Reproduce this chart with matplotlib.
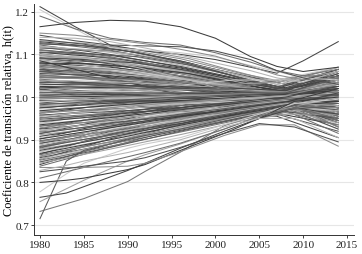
"""
Spaghetti chart of relative transition coefficients h(it), 1980-2014.
Values read off the reference picture by eye.
"""
import matplotlib
matplotlib.use('Agg')
import matplotlib.pyplot as plt

# knot years for the bulk of the series
YEARS = [1980, 1988, 1996, 2003, 2008, 2014]

upper_lines = [
    [1.130, 1.115, 1.085, 1.050, 1.030, 1.060],
    [1.128, 1.110, 1.080, 1.045, 1.020, 1.040],
    [1.125, 1.118, 1.090, 1.055, 1.035, 1.070],
    [1.122, 1.100, 1.070, 1.040, 1.015, 1.020],
    [1.120, 1.105, 1.075, 1.048, 1.025, 1.050],
    [1.118, 1.095, 1.060, 1.030, 1.010, 0.990],
    [1.115, 1.108, 1.082, 1.052, 1.030, 1.065],
    [1.112, 1.090, 1.062, 1.035, 1.012, 1.010],
    [1.110, 1.098, 1.072, 1.042, 1.020, 1.045],
    [1.108, 1.085, 1.055, 1.028, 1.005, 0.975],
    [1.105, 1.092, 1.068, 1.040, 1.022, 1.055],
    [1.102, 1.080, 1.050, 1.025, 1.008, 1.000],
    [1.100, 1.088, 1.065, 1.038, 1.018, 1.030],
    [1.098, 1.078, 1.048, 1.020, 1.000, 0.960],
    [1.095, 1.085, 1.060, 1.035, 1.015, 1.040],
    [1.092, 1.072, 1.045, 1.022, 1.004, 0.985],
    [1.090, 1.080, 1.058, 1.032, 1.020, 1.060],
    [1.088, 1.068, 1.040, 1.018, 0.998, 0.950],
    [1.085, 1.075, 1.055, 1.030, 1.012, 1.025],
    [1.082, 1.062, 1.038, 1.015, 0.995, 0.970],
    [1.080, 1.070, 1.050, 1.028, 1.015, 1.050],
    [1.078, 1.060, 1.035, 1.012, 1.000, 1.005],
    [1.075, 1.066, 1.046, 1.025, 1.010, 1.035],
    [1.072, 1.055, 1.030, 1.010, 0.995, 0.980],
    [1.070, 1.062, 1.044, 1.022, 1.008, 1.015],
    [1.068, 1.050, 1.028, 1.008, 0.990, 0.945],
    [1.065, 1.058, 1.040, 1.020, 1.006, 1.030],
    [1.062, 1.048, 1.025, 1.005, 0.992, 0.990],
    [1.060, 1.054, 1.036, 1.018, 1.004, 1.010],
    [1.058, 1.044, 1.022, 1.004, 0.990, 0.960],
    [1.055, 1.050, 1.034, 1.016, 1.002, 1.020],
    [1.052, 1.040, 1.020, 1.002, 0.988, 0.975],
    [1.050, 1.046, 1.030, 1.014, 1.003, 1.040],
]

middle_lines = [
    [1.048, 1.040, 1.028, 1.012, 1.000, 0.990],
    [1.045, 1.042, 1.035, 1.022, 1.012, 1.045],
    [1.042, 1.030, 1.018, 1.005, 0.995, 0.965],
    [1.040, 1.036, 1.028, 1.018, 1.010, 1.030],
    [1.038, 1.025, 1.012, 1.000, 0.990, 0.955],
    [1.035, 1.030, 1.022, 1.015, 1.008, 1.020],
    [1.032, 1.020, 1.008, 0.998, 0.992, 0.985],
    [1.030, 1.028, 1.024, 1.020, 1.015, 1.055],
    [1.028, 1.015, 1.004, 0.996, 0.990, 0.970],
    [1.025, 1.022, 1.018, 1.012, 1.006, 1.010],
    [1.022, 1.010, 1.000, 0.994, 0.990, 0.945],
    [1.020, 1.020, 1.018, 1.015, 1.012, 1.040],
    [1.018, 1.008, 0.998, 0.992, 0.988, 0.975],
    [1.015, 1.012, 1.008, 1.005, 1.002, 1.000],
    [1.012, 1.004, 0.996, 0.990, 0.986, 0.960],
    [1.010, 1.010, 1.010, 1.010, 1.010, 1.025],
    [1.008, 1.000, 0.994, 0.990, 0.988, 0.990],
    [1.005, 1.006, 1.008, 1.008, 1.008, 1.050],
    [1.002, 0.998, 0.994, 0.992, 0.990, 0.935],
    [1.000, 1.002, 1.004, 1.006, 1.006, 1.015],
    [0.998, 0.994, 0.992, 0.992, 0.992, 0.980],
    [0.995, 1.000, 1.004, 1.008, 1.010, 1.035],
    [0.992, 0.990, 0.990, 0.990, 0.990, 0.965],
    [0.990, 0.996, 1.002, 1.006, 1.008, 1.000],
    [0.985, 0.986, 0.988, 0.990, 0.992, 0.950],
    [0.982, 0.992, 1.000, 1.006, 1.010, 1.045],
    [0.978, 0.982, 0.986, 0.990, 0.994, 0.985],
    [0.975, 0.986, 0.996, 1.004, 1.008, 1.020],
    [0.972, 0.978, 0.984, 0.990, 0.994, 0.970],
    [0.968, 0.980, 0.992, 1.000, 1.006, 1.005],
    [0.965, 0.972, 0.980, 0.988, 0.994, 0.955],
    [0.962, 0.975, 0.988, 0.998, 1.004, 1.030],
    [0.958, 0.966, 0.976, 0.986, 0.992, 0.990],
    [0.955, 0.970, 0.984, 0.996, 1.002, 1.010],
    [0.952, 0.962, 0.972, 0.984, 0.990, 0.960],
]

lower_lines = [
    [0.948, 0.960, 0.972, 0.985, 0.995, 1.000],
    [0.945, 0.955, 0.966, 0.978, 0.988, 0.965],
    [0.942, 0.958, 0.975, 0.990, 1.000, 1.025],
    [0.938, 0.950, 0.962, 0.976, 0.986, 0.950],
    [0.935, 0.952, 0.970, 0.986, 0.996, 0.995],
    [0.932, 0.945, 0.958, 0.972, 0.984, 0.975],
    [0.928, 0.948, 0.968, 0.984, 0.995, 1.015],
    [0.925, 0.940, 0.955, 0.970, 0.982, 0.940],
    [0.922, 0.942, 0.962, 0.980, 0.992, 0.985],
    [0.918, 0.935, 0.952, 0.968, 0.980, 0.960],
    [0.915, 0.938, 0.960, 0.978, 0.990, 1.005],
    [0.912, 0.930, 0.948, 0.966, 0.978, 0.930],
    [0.908, 0.932, 0.956, 0.976, 0.988, 0.990],
    [0.905, 0.925, 0.945, 0.964, 0.976, 0.970],
    [0.902, 0.928, 0.954, 0.974, 0.988, 1.020],
    [0.898, 0.920, 0.942, 0.962, 0.975, 0.950],
    [0.895, 0.922, 0.950, 0.972, 0.986, 0.980],
    [0.892, 0.915, 0.938, 0.960, 0.974, 0.925],
    [0.888, 0.916, 0.945, 0.968, 0.984, 1.000],
    [0.885, 0.910, 0.935, 0.958, 0.972, 0.960],
    [0.882, 0.912, 0.942, 0.966, 0.982, 0.985],
    [0.878, 0.905, 0.932, 0.956, 0.970, 0.940],
    [0.875, 0.906, 0.938, 0.964, 0.980, 1.010],
    [0.872, 0.900, 0.928, 0.954, 0.970, 0.970],
    [0.868, 0.900, 0.934, 0.962, 0.978, 0.990],
    [0.865, 0.895, 0.925, 0.952, 0.968, 0.915],
    [0.862, 0.895, 0.930, 0.958, 0.976, 0.975],
    [0.858, 0.890, 0.922, 0.950, 0.966, 0.950],
    [0.855, 0.890, 0.926, 0.956, 0.974, 1.000],
    [0.852, 0.885, 0.918, 0.948, 0.964, 0.935],
    [0.848, 0.882, 0.920, 0.952, 0.970, 0.980],
    [0.845, 0.878, 0.912, 0.944, 0.960, 0.960],
]

# second batch, different knots, so the bundle crosses itself
EXTRA_YEARS = [1980, 1985, 1991, 1997, 2002, 2007, 2014]
extra_lines = [
    [1.125, 1.120, 1.105, 1.080, 1.050, 1.020, 1.000],
    [1.118, 1.112, 1.100, 1.078, 1.055, 1.030, 1.055],
    [1.110, 1.100, 1.085, 1.060, 1.035, 1.005, 0.965],
    [1.105, 1.102, 1.095, 1.075, 1.050, 1.025, 1.045],
    [1.098, 1.090, 1.075, 1.052, 1.028, 1.000, 0.990],
    [1.092, 1.088, 1.080, 1.062, 1.040, 1.020, 1.065],
    [1.086, 1.075, 1.060, 1.040, 1.020, 0.995, 0.955],
    [1.080, 1.078, 1.070, 1.055, 1.035, 1.015, 1.030],
    [1.075, 1.065, 1.050, 1.030, 1.012, 0.992, 0.975],
    [1.070, 1.068, 1.062, 1.048, 1.030, 1.012, 1.050],
    [1.064, 1.055, 1.040, 1.022, 1.005, 0.990, 0.995],
    [1.058, 1.056, 1.050, 1.040, 1.025, 1.010, 1.020],
    [1.052, 1.044, 1.030, 1.015, 1.000, 0.985, 0.950],
    [1.046, 1.045, 1.042, 1.034, 1.022, 1.008, 1.035],
    [1.040, 1.032, 1.020, 1.006, 0.995, 0.985, 0.985],
    [1.034, 1.034, 1.032, 1.026, 1.018, 1.010, 1.060],
    [1.028, 1.022, 1.012, 1.002, 0.994, 0.986, 0.960],
    [1.022, 1.024, 1.024, 1.020, 1.014, 1.008, 1.015],
    [1.016, 1.010, 1.002, 0.996, 0.990, 0.985, 0.975],
    [1.010, 1.014, 1.016, 1.016, 1.014, 1.010, 1.040],
    [1.004, 1.000, 0.996, 0.992, 0.990, 0.988, 0.945],
    [0.998, 1.004, 1.008, 1.010, 1.010, 1.008, 1.005],
    [0.992, 0.992, 0.992, 0.992, 0.992, 0.992, 0.970],
    [0.986, 0.994, 1.002, 1.008, 1.010, 1.010, 1.050],
    [0.980, 0.984, 0.988, 0.990, 0.992, 0.994, 0.990],
    [0.974, 0.984, 0.995, 1.004, 1.010, 1.012, 1.025],
    [0.968, 0.975, 0.982, 0.988, 0.992, 0.995, 0.960],
    [0.962, 0.975, 0.990, 1.002, 1.010, 1.015, 1.040],
    [0.956, 0.966, 0.976, 0.986, 0.992, 0.996, 0.985],
    [0.950, 0.966, 0.984, 0.998, 1.008, 1.014, 1.010],
    [0.944, 0.956, 0.970, 0.982, 0.990, 0.996, 0.950],
    [0.938, 0.956, 0.976, 0.994, 1.006, 1.016, 1.030],
    [0.932, 0.946, 0.962, 0.978, 0.988, 0.996, 0.975],
    [0.926, 0.946, 0.968, 0.988, 1.002, 1.014, 1.000],
    [0.920, 0.936, 0.954, 0.972, 0.984, 0.994, 0.940],
    [0.914, 0.936, 0.962, 0.984, 1.000, 1.014, 1.045],
    [0.908, 0.926, 0.948, 0.968, 0.982, 0.994, 0.965],
    [0.902, 0.926, 0.954, 0.978, 0.996, 1.010, 0.990],
    [0.896, 0.916, 0.940, 0.962, 0.978, 0.990, 0.930],
    [0.890, 0.916, 0.946, 0.972, 0.990, 1.006, 1.020],
    [0.884, 0.906, 0.932, 0.956, 0.974, 0.988, 0.960],
    [0.878, 0.906, 0.938, 0.966, 0.986, 1.002, 0.985],
    [0.872, 0.896, 0.926, 0.952, 0.970, 0.986, 0.945],
    [0.866, 0.896, 0.930, 0.960, 0.982, 1.000, 1.005],
    [0.860, 0.886, 0.918, 0.946, 0.966, 0.984, 0.955],
    [0.854, 0.884, 0.920, 0.952, 0.976, 0.996, 0.975],
    [0.848, 0.876, 0.910, 0.940, 0.962, 0.980, 0.925],
    [0.842, 0.872, 0.908, 0.942, 0.968, 0.990, 0.990],
    [0.838, 0.866, 0.900, 0.932, 0.956, 0.975, 0.945],
    [1.132, 1.126, 1.112, 1.090, 1.062, 1.035, 1.070],
    [1.135, 1.124, 1.104, 1.078, 1.050, 1.020, 1.010],
    [1.100, 1.092, 1.070, 1.040, 1.010, 0.975, 0.940],
    [0.880, 0.910, 0.950, 0.990, 1.020, 1.040, 1.065],
    [1.060, 1.050, 1.030, 1.000, 0.975, 0.960, 0.920],
    [0.920, 0.945, 0.980, 1.010, 1.030, 1.035, 1.060],
    [1.020, 1.000, 0.980, 0.965, 0.958, 0.955, 0.905],
    [0.960, 0.985, 1.010, 1.030, 1.040, 1.040, 1.070],
    [1.085, 1.060, 1.030, 1.000, 0.980, 0.962, 0.935],
]

# sparse lines above the bundle
TOP_YEARS = [1980, 1984, 1988, 1992, 1996, 2000, 2004, 2007, 2010, 2014]
top_lines = [
    [1.212, 1.165, 1.122, 1.108, 1.100, 1.088, 1.070, 1.056, 1.085, 1.130],
    [1.205, 1.160, 1.116, 1.110, 1.104, 1.094, 1.074, 1.060, 1.045, 1.040],
    [1.165, 1.175, 1.180, 1.178, 1.165, 1.138, 1.095, 1.072, 1.060, 1.070],
    [1.190, 1.160, 1.138, 1.128, 1.122, 1.104, 1.082, 1.062, 1.050, 1.048],
    [1.150, 1.145, 1.135, 1.125, 1.112, 1.096, 1.072, 1.052, 1.040, 1.045],
    [1.145, 1.132, 1.122, 1.120, 1.118, 1.108, 1.088, 1.062, 1.045, 1.030],
    [1.140, 1.138, 1.130, 1.115, 1.098, 1.080, 1.062, 1.045, 1.035, 1.060],
]

# sparse lines below the bundle
BOT_YEARS = [1980, 1983, 1985, 1990, 1992, 1996, 2001, 2005, 2009, 2014]
bottom_lines = [
    [0.732, 0.750, 0.762, 0.802, 0.826, 0.871, 0.933, 0.960, 0.980, 0.930],
    [0.715, 0.850, 0.875, 0.900, 0.910, 0.925, 0.948, 0.965, 0.980, 0.970],
    [0.755, 0.785, 0.805, 0.850, 0.865, 0.890, 0.925, 0.955, 0.985, 0.980],
    [0.765, 0.775, 0.790, 0.828, 0.845, 0.880, 0.920, 0.950, 0.975, 0.960],
    [0.778, 0.820, 0.845, 0.880, 0.890, 0.905, 0.935, 0.960, 0.985, 0.995],
    [0.800, 0.805, 0.810, 0.830, 0.842, 0.875, 0.915, 0.950, 0.990, 1.000],
    [0.810, 0.825, 0.835, 0.860, 0.870, 0.892, 0.925, 0.955, 0.975, 0.950],
    [0.835, 0.835, 0.835, 0.838, 0.845, 0.872, 0.910, 0.935, 0.935, 0.885],
    [0.825, 0.832, 0.838, 0.850, 0.858, 0.882, 0.915, 0.938, 0.930, 0.895],
    [0.828, 0.840, 0.850, 0.870, 0.880, 0.900, 0.930, 0.950, 0.950, 0.905],
]

X_TICKS = [1980, 1985, 1990, 1995, 2000, 2005, 2010, 2015]
Y_TICKS = [0.7, 0.8, 0.9, 1.0, 1.1, 1.2]
Y_LABEL = 'Coeficiente de transición relativa, h(it)'

GRAYS = ['#3c3c3c', '#6e6e6e', '#8c8c8c', '#505050', '#b4b4b4',
         '#787878', '#5a5a5a', '#a0a0a0', '#464646', '#cacaca']

plt.rcParams['font.family'] = ['Liberation Serif', 'DejaVu Serif']

fig = plt.figure(figsize=(3.62, 2.55), dpi=100)
ax = fig.add_axes([0.094, 0.075, 0.884, 0.905])

k = 0
batches = [(YEARS, upper_lines), (EXTRA_YEARS, extra_lines),
           (YEARS, middle_lines), (YEARS, lower_lines),
           (TOP_YEARS, top_lines), (BOT_YEARS, bottom_lines)]
for xs, group in batches:
    for vals in group:
        ax.plot(xs, vals, color=GRAYS[k % len(GRAYS)], lw=0.75)
        k += 1

ax.set_xlim(1979.32, 2015.8)
ax.set_ylim(0.677, 1.218)
ax.set_xticks(X_TICKS)
ax.set_yticks(Y_TICKS)
ax.set_yticklabels([f'{v:.1f}' for v in Y_TICKS])
ax.grid(axis='y', color='#e6e6e6', lw=0.8)
ax.set_axisbelow(True)
ax.tick_params(labelsize=8, length=2.5, width=0.6, pad=1, colors='#222222')
for s in ('top', 'right'):
    ax.spines[s].set_visible(False)
for s in ('left', 'bottom'):
    ax.spines[s].set_linewidth(0.7)
    ax.spines[s].set_color('#333333')
ax.set_ylabel(Y_LABEL, fontsize=8.8)
ax.yaxis.set_label_coords(-0.062, 0.5)

fig.savefig('out.png', dpi=100)
